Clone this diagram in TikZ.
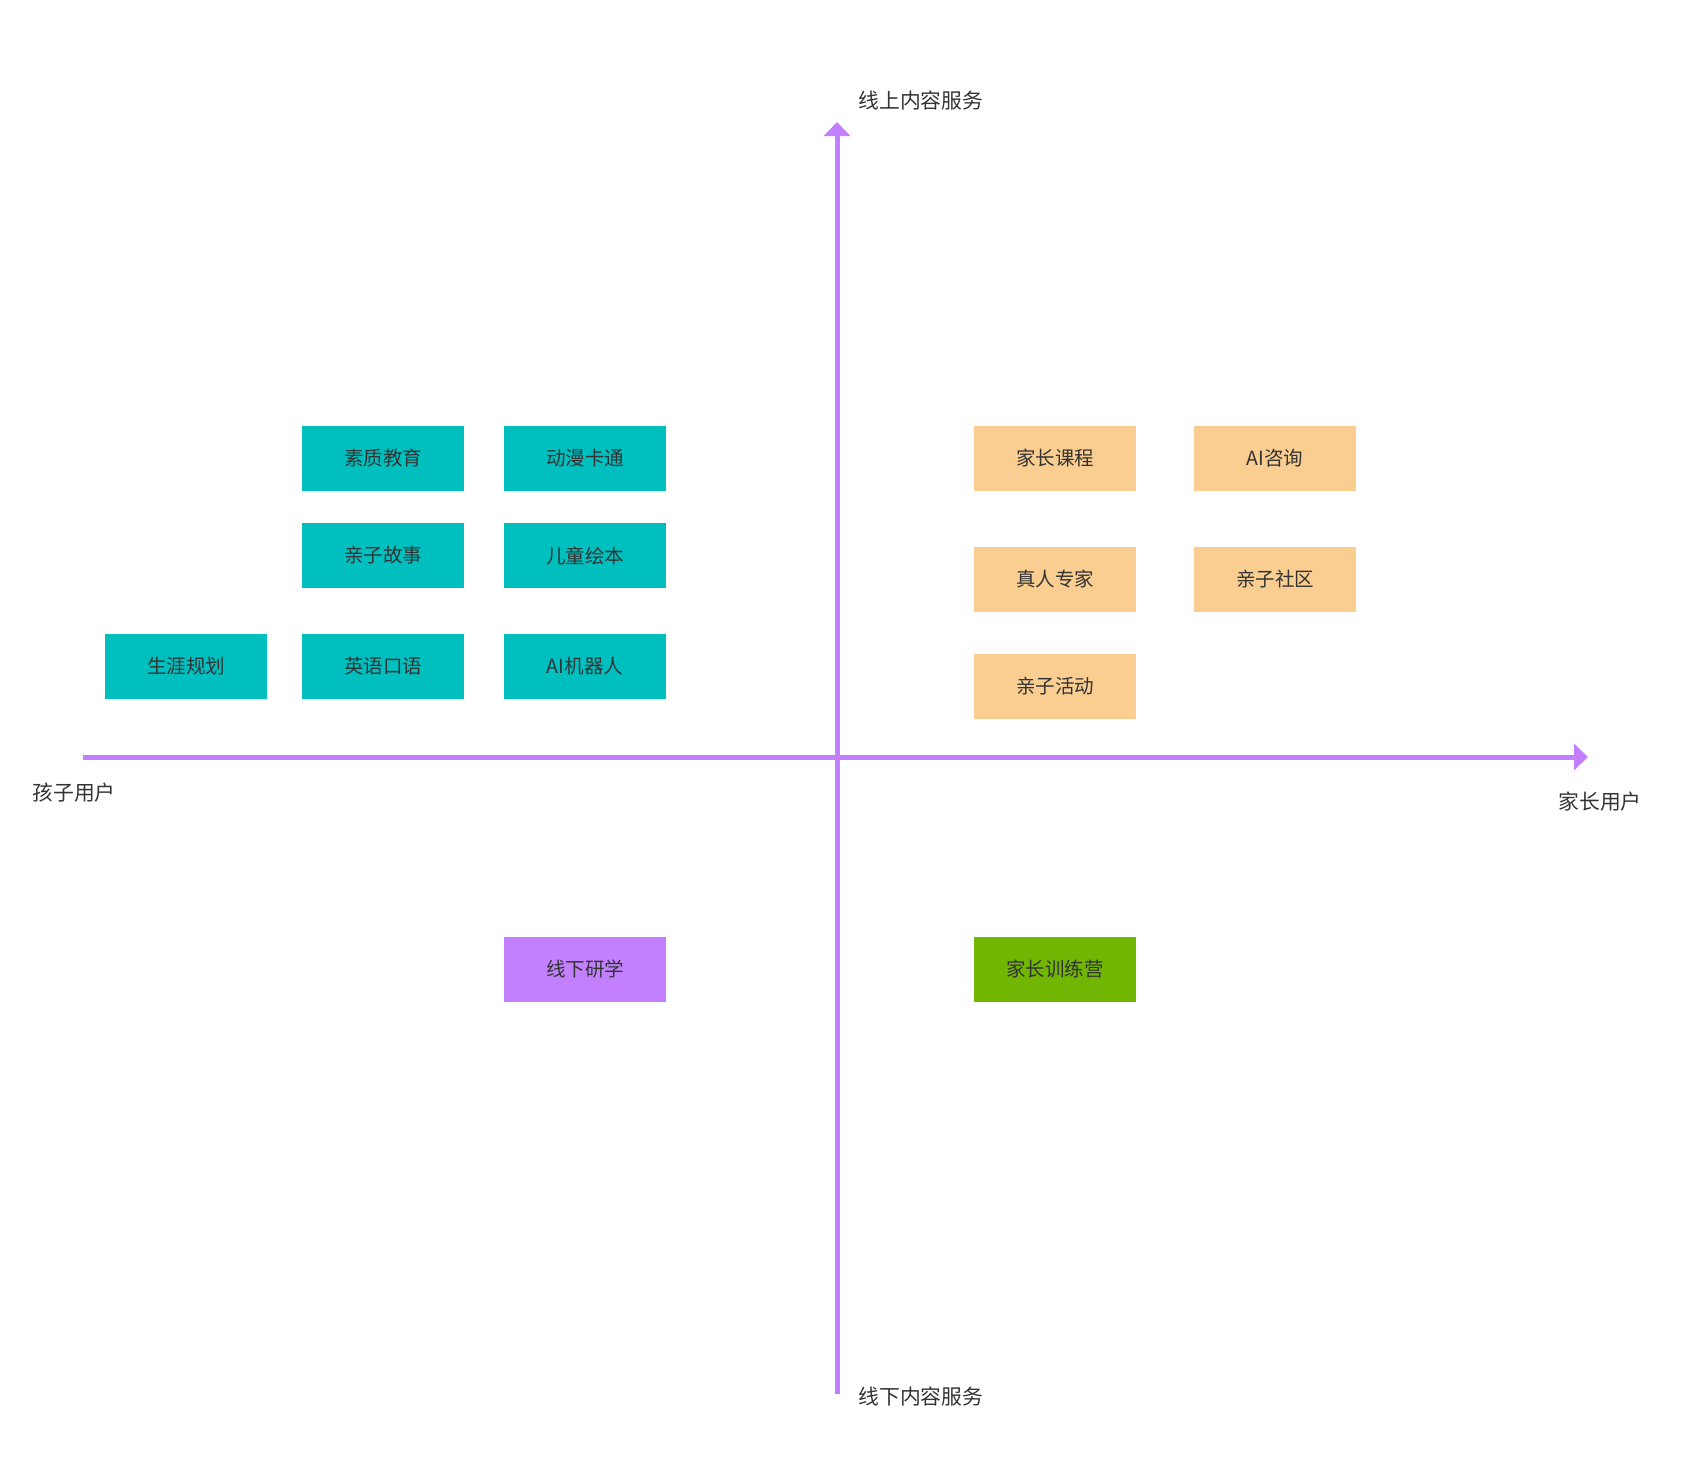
\documentclass[tikz,border=0pt]{standalone}
\usepackage{fontspec}
\setmainfont{Noto Sans CJK SC}
\usepackage{xcolor}
\usepackage{tikz}
\usetikzlibrary{arrows.meta,positioning}
\definecolor{kidfill}{HTML}{00BFBF}
\definecolor{parentfill}{HTML}{FACD91}
\definecolor{offlinefill}{HTML}{C280FF}
\definecolor{campfill}{HTML}{70B603}
\definecolor{axisline}{HTML}{C280FF}
\definecolor{darktext}{HTML}{333333}
\tikzset{
  every picture/.style = {
    x = 0.5pt,
    y = -0.5pt,
  }
  ,
  axis/.style = {
    draw = axisline,
    line width = 2.5pt,
    -{Triangle[length=7pt,width=13pt]}
  }
  , % boxes of the quadrants
  item/.style = {
    rectangle,
    minimum width = 81pt,
    minimum height = 32.5pt,
    inner sep = 0pt,
    text = darktext,
    font = \fontsize{9.75}{12}\selectfont
  }
  ,
  kid/.style = {item, fill = kidfill},
  parent/.style = {item, fill = parentfill},
  offline/.style = {item, fill = offlinefill},
  camp/.style = {item, fill = campfill},
  % labels of the axes
  label-axis/.style = {
    anchor = west,
    inner sep = 0pt,
    text = darktext,
    font = \fontsize{10.4}{12}\selectfont
  }
}
\begin{document}
\begin{tikzpicture}
\useasboundingbox (0,0) rectangle (1702,1474);
\coordinate (left) at (83,757);
\coordinate (right) at (1588,757);
\coordinate (bottom) at (837,1394);
\coordinate (top) at (837,122);
\draw[axis] (left) -- (right);
\draw[axis] (bottom) -- (top);
\node[label-axis] at (858,101) (online) {线上内容服务};
\node[label-axis] at (858,1397) (offlineaxis) {线下内容服务};
\node[label-axis] at (32,793) (kids) {孩子用户};
\node[label-axis] at (1558,802) (parents) {家长用户};
% children, online
\node[kid] at (383,458) (suzhi) {素质教育};
\node[kid] at (585,458) (dongman) {动漫卡通};
\node[kid] at (383,555.5) (gushi) {亲子故事};
\node[kid] at (585,555.5) (huiben) {儿童绘本};
\node[kid] at (186,666.5) (shengya) {生涯规划};
\node[kid] at (383,666.5) (kouyu) {英语口语};
\node[kid] at (585,666.5) (jiqiren) {AI机器人};
% parents, online
\node[parent] at (1055,458) (kecheng) {家长课程};
\node[parent] at (1275,458) (zixun) {AI咨询};
\node[parent] at (1055,579.5) (zhuanjia) {真人专家};
\node[parent] at (1275,579.5) (shequ) {亲子社区};
\node[parent] at (1055,686) (huodong) {亲子活动};
% offline
\node[offline] at (585,969.5) (yanxue) {线下研学};
\node[camp] at (1055,969.5) (xunlian) {家长训练营};
\end{tikzpicture}
\end{document}
